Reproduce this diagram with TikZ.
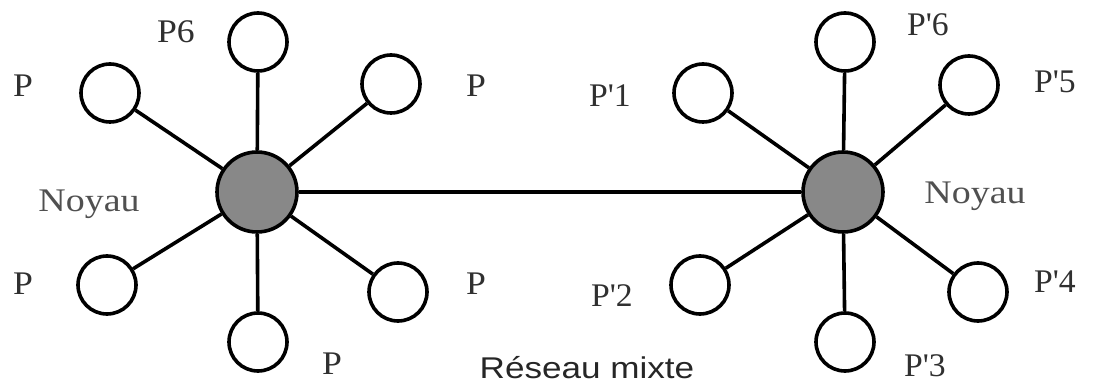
\documentclass[tikz,border=0pt]{standalone}
\usepackage{fontspec}
\newfontfamily\labfont{Liberation Serif}
\newfontfamily\capfont{Liberation Sans}
\definecolor{hubgray}{HTML}{888888}
\definecolor{labgray}{HTML}{303030}
\definecolor{noygray}{HTML}{505050}
\begin{document}
\begin{tikzpicture}[x=1pt,y=-1pt,
  sat/.style={circle,draw=black,line width=3.6pt,fill=white,minimum size=58pt,inner sep=0pt},
  hub/.style={circle,draw=black,line width=3.6pt,fill=hubgray,minimum size=80pt,inner sep=0pt},
  link/.style={line width=3.6pt,black},
  lab/.style={anchor=base,inner sep=0pt,text=labgray,font=\labfont\fontsize{33}{38}\selectfont},
  noy/.style={anchor=base,inner sep=0pt,text=noygray,font=\labfont\fontsize{33}{38}\selectfont},
  captxt/.style={anchor=base,inner sep=0pt,text=black!85,font=\capfont\fontsize{30}{36}\selectfont}]
\useasboundingbox (0,0) rectangle (1109,387);
% left star
\node[hub] (L) at (257,192) {};
\node[sat] (L1) at (258,42) {};
\node[sat] (L2) at (110,93) {};
\node[sat] (L3) at (391,84) {};
\node[sat] (L4) at (107,285) {};
\node[sat] (L5) at (398,292) {};
\node[sat] (L6) at (258,342) {};
% right star
\node[hub] (R) at (843,192) {};
\node[sat] (R6) at (845,42) {};
\node[sat] (R1) at (703,93) {};
\node[sat] (R5) at (969,85) {};
\node[sat] (R2) at (700,285) {};
\node[sat] (R4) at (978,292) {};
\node[sat] (R3) at (845,342) {};
% connectors
\foreach \s in {L1,L2,L3,L4,L5,L6} \draw[link] (L) -- (\s);
\foreach \s in {R1,R2,R3,R4,R5,R6} \draw[link] (R) -- (\s);
\draw[link] (L) -- (R);
% labels left
\node[lab] (tP6) at (176,43) {\scalebox{1.08}[1]{P6}};
\node[lab] (tPa) at (23,97) {\scalebox{1.08}[1]{P}};
\node[lab] (tPb) at (476,97) {\scalebox{1.08}[1]{P}};
\node[noy] (tNL) at (89,212) {\scalebox{1.15}[1]{Noyau}};
\node[lab] (tPc) at (23,295) {\scalebox{1.08}[1]{P}};
\node[lab] (tPd) at (476,295) {\scalebox{1.08}[1]{P}};
\node[lab] (tPe) at (332,375) {\scalebox{1.08}[1]{P}};
% labels right
\node[lab] (tQ6) at (928,36) {\scalebox{1.02}[1]{P'6}};
\node[lab] (tQ5) at (1055,93) {\scalebox{1.02}[1]{P'5}};
\node[lab] (tQ1) at (610,107) {\scalebox{1.02}[1]{P'1}};
\node[noy] (tNR) at (975,204) {\scalebox{1.15}[1]{Noyau}};
\node[lab] (tQ2) at (612,307) {\scalebox{1.02}[1]{P'2}};
\node[lab] (tQ4) at (1055,293) {\scalebox{1.02}[1]{P'4}};
\node[lab] (tQ3) at (925,377) {\scalebox{1.02}[1]{P'3}};
% caption
\node[captxt] (capt) at (587,378) {\scalebox{1.17}[1]{Réseau mixte}};
\end{tikzpicture}
\end{document}
